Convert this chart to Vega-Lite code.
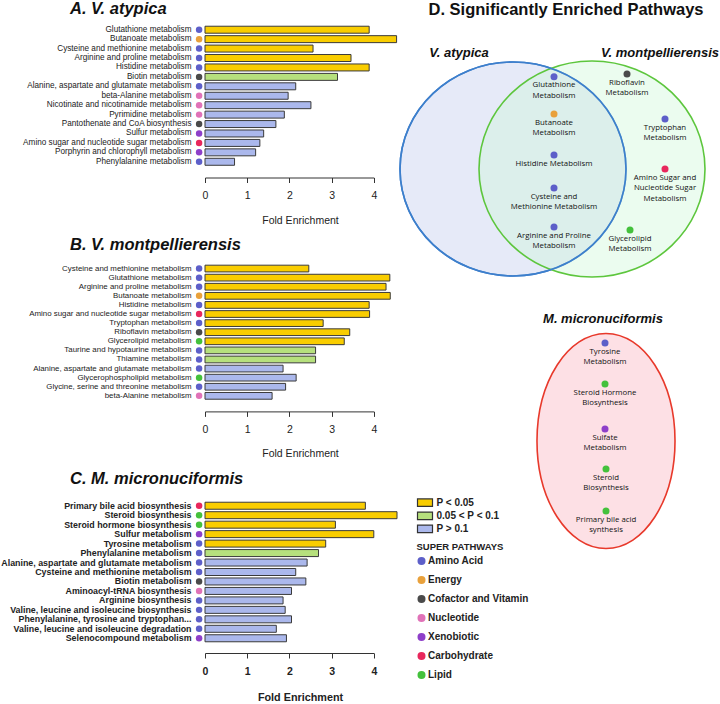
{
 "$schema": "https://vega.github.io/schema/vega-lite/v6.json",
 "padding": 0,
 "background": "white",
 "config": {"view": {"stroke": null}, "font": "Liberation Sans", "axis": {"labelFont": "Liberation Sans", "titleFont": "Liberation Sans"}, "legend": {"labelFont": "Liberation Sans", "titleFont": "Liberation Sans"}},
 "datasets": {
  "a": [
   {"pathway":"Glutathione metabolism","fe":3.89,"p":"P < 0.05","super":"Amino Acid"},
   {"pathway":"Butanoate metabolism","fe":4.54,"p":"P < 0.05","super":"Energy"},
   {"pathway":"Cysteine and methionine metabolism","fe":2.56,"p":"P < 0.05","super":"Amino Acid"},
   {"pathway":"Arginine and proline metabolism","fe":3.46,"p":"P < 0.05","super":"Amino Acid"},
   {"pathway":"Histidine metabolism","fe":3.89,"p":"P < 0.05","super":"Amino Acid"},
   {"pathway":"Biotin metabolism","fe":3.14,"p":"0.05 < P < 0.1","super":"Cofactor and Vitamin"},
   {"pathway":"Alanine, aspartate and glutamate metabolism","fe":2.15,"p":"P > 0.1","super":"Amino Acid"},
   {"pathway":"beta-Alanine metabolism","fe":1.97,"p":"P > 0.1","super":"Nucleotide"},
   {"pathway":"Nicotinate and nicotinamide metabolism","fe":2.51,"p":"P > 0.1","super":"Nucleotide"},
   {"pathway":"Pyrimidine metabolism","fe":1.88,"p":"P > 0.1","super":"Nucleotide"},
   {"pathway":"Pantothenate and CoA biosynthesis","fe":1.68,"p":"P > 0.1","super":"Cofactor and Vitamin"},
   {"pathway":"Sulfur metabolism","fe":1.39,"p":"P > 0.1","super":"Xenobiotic"},
   {"pathway":"Amino sugar and nucleotide sugar metabolism","fe":1.30,"p":"P > 0.1","super":"Carbohydrate"},
   {"pathway":"Porphyrin and chlorophyll metabolism","fe":1.20,"p":"P > 0.1","super":"Xenobiotic"},
   {"pathway":"Phenylalanine metabolism","fe":0.70,"p":"P > 0.1","super":"Amino Acid"}
  ],
  "b": [
   {"pathway":"Cysteine and methionine metabolism","fe":2.46,"p":"P < 0.05","super":"Amino Acid"},
   {"pathway":"Glutathione metabolism","fe":4.38,"p":"P < 0.05","super":"Amino Acid"},
   {"pathway":"Arginine and proline metabolism","fe":4.29,"p":"P < 0.05","super":"Amino Acid"},
   {"pathway":"Butanoate metabolism","fe":4.39,"p":"P < 0.05","super":"Energy"},
   {"pathway":"Histidine metabolism","fe":3.89,"p":"P < 0.05","super":"Amino Acid"},
   {"pathway":"Amino sugar and nucleotide sugar metabolism","fe":3.90,"p":"P < 0.05","super":"Carbohydrate"},
   {"pathway":"Tryptophan metabolism","fe":2.80,"p":"P < 0.05","super":"Amino Acid"},
   {"pathway":"Riboflavin metabolism","fe":3.43,"p":"P < 0.05","super":"Cofactor and Vitamin"},
   {"pathway":"Glycerolipid metabolism","fe":3.30,"p":"P < 0.05","super":"Lipid"},
   {"pathway":"Taurine and hypotaurine metabolism","fe":2.62,"p":"0.05 < P < 0.1","super":"Amino Acid"},
   {"pathway":"Thiamine metabolism","fe":2.62,"p":"0.05 < P < 0.1","super":"Amino Acid"},
   {"pathway":"Alanine, aspartate and glutamate metabolism","fe":1.85,"p":"P > 0.1","super":"Amino Acid"},
   {"pathway":"Glycerophospholipid metabolism","fe":2.16,"p":"P > 0.1","super":"Lipid"},
   {"pathway":"Glycine, serine and threonine metabolism","fe":1.91,"p":"P > 0.1","super":"Amino Acid"},
   {"pathway":"beta-Alanine metabolism","fe":1.59,"p":"P > 0.1","super":"Nucleotide"}
  ],
  "c": [
   {"pathway":"Primary bile acid biosynthesis","fe":3.80,"p":"P < 0.05","super":"Carbohydrate"},
   {"pathway":"Steroid biosynthesis","fe":4.55,"p":"P < 0.05","super":"Lipid"},
   {"pathway":"Steroid hormone biosynthesis","fe":3.09,"p":"P < 0.05","super":"Lipid"},
   {"pathway":"Sulfur metabolism","fe":4.00,"p":"P < 0.05","super":"Xenobiotic"},
   {"pathway":"Tyrosine metabolism","fe":2.86,"p":"P < 0.05","super":"Amino Acid"},
   {"pathway":"Phenylalanine metabolism","fe":2.69,"p":"0.05 < P < 0.1","super":"Amino Acid"},
   {"pathway":"Alanine, aspartate and glutamate metabolism","fe":2.42,"p":"P > 0.1","super":"Amino Acid"},
   {"pathway":"Cysteine and methionine metabolism","fe":2.15,"p":"P > 0.1","super":"Amino Acid"},
   {"pathway":"Biotin metabolism","fe":2.39,"p":"P > 0.1","super":"Cofactor and Vitamin"},
   {"pathway":"Aminoacyl-tRNA biosynthesis","fe":2.05,"p":"P > 0.1","super":"Nucleotide"},
   {"pathway":"Arginine biosynthesis","fe":1.85,"p":"P > 0.1","super":"Amino Acid"},
   {"pathway":"Valine, leucine and isoleucine biosynthesis","fe":1.90,"p":"P > 0.1","super":"Amino Acid"},
   {"pathway":"Phenylalanine, tyrosine and tryptophan...","fe":2.05,"p":"P > 0.1","super":"Amino Acid"},
   {"pathway":"Valine, leucine and isoleucine degradation","fe":1.69,"p":"P > 0.1","super":"Amino Acid"},
   {"pathway":"Selenocompound metabolism","fe":1.93,"p":"P > 0.1","super":"Xenobiotic"}
  ],
  "sets": [
   {"set":"V. atypica","x":510,"y":168,"lx":456,"ly":52},
   {"set":"V. montpellierensis","x":589,"y":168,"lx":657,"ly":52},
   {"set":"M. micronuciformis","x":603,"y":440,"lx":600,"ly":318}
  ],
  "venn": [
   {"pathway":"Glutathione\nMetabolism","super":"Amino Acid","x":551,"y":75.7},
   {"pathway":"Butanoate\nMetabolism","super":"Energy","x":551,"y":113},
   {"pathway":"Histidine Metabolism","super":"Amino Acid","x":551,"y":154},
   {"pathway":"Cysteine and\nMethionine Metabolism","super":"Amino Acid","x":551,"y":187},
   {"pathway":"Arginine and Proline\nMetabolism","super":"Amino Acid","x":551,"y":226},
   {"pathway":"Riboflavin\nMetabolism","super":"Cofactor and Vitamin","x":624,"y":73},
   {"pathway":"Tryptophan\nMetabolism","super":"Amino Acid","x":662,"y":118},
   {"pathway":"Amino Sugar and\nNucleotide Sugar\nMetabolism","super":"Carbohydrate","x":662,"y":168},
   {"pathway":"Glycerolipid\nMetabolism","super":"Lipid","x":627,"y":229},
   {"pathway":"Tyrosine\nMetabolism","super":"Amino Acid","x":602,"y":342},
   {"pathway":"Steroid Hormone\nBiosynthesis","super":"Lipid","x":602,"y":383},
   {"pathway":"Sulfate\nMetabolism","super":"Xenobiotic","x":602,"y":428},
   {"pathway":"Steroid\nBiosynthesis","super":"Lipid","x":603,"y":468},
   {"pathway":"Primary bile acid\nsynthesis","super":"Lipid","x":603,"y":510}
  ]
 },
 "resolve": {"scale": {"color": "shared", "fill": "shared"}, "legend": {"color": "shared", "fill": "shared"}},
 "spacing": -4,
 "hconcat": [
  {
   "spacing": 10,
   "resolve": {"scale": {"color": "shared", "fill": "shared"}, "legend": {"color": "shared", "fill": "shared"}},
   "vconcat": [
    {
     "width": 168.8, "height": 141.5,
     "data": {"name": "a"},
     "title": {"text": "A. V. atypica", "anchor": "start", "frame": "group", "dx": -135, "fontSize": 16.5, "fontWeight": "bold", "fontStyle": "italic", "color": "#111", "offset": 7},
     "encoding": {"y": {"field": "pathway", "type": "nominal", "sort": null, "scale": {"paddingInner": 0.26, "paddingOuter": 0.13}, "axis": {"title": null, "ticks": false, "domain": false, "labelPadding": 14, "labelFontSize": 8.2, "labelColor": "#222", "labelLimit": 400}}},
     "layer": [
      {"mark": {"type": "bar", "stroke": "#3a3a3a", "strokeWidth": 1},
       "encoding": {
        "x": {"field": "fe", "type": "quantitative", "scale": {"domain": [0, 4], "nice": false, "zero": true}, "axis": {"title": "Fold Enrichment", "values": [0,1,2,3,4], "format": "d", "grid": false, "offset": 11, "tickSize": 5, "tickColor": "#333", "domainColor": "#333", "labelFontSize": 10.5, "labelPadding": 8, "labelFlush": false, "labelColor": "#222", "titleFontSize": 10.5, "titleFontWeight": "normal", "titleColor": "#222", "titlePadding": 14, "titleX": 95}},
        "fill": {"field": "p", "type": "nominal", "scale": {"domain": ["P < 0.05", "0.05 < P < 0.1", "P > 0.1"], "range": ["#f9cd00", "#b6e07d", "#abb8ec"]}, "legend": {"orient": "none", "legendX": 214, "legendY": 471.7, "padding": 0, "title": null, "symbolType": "M-1.5,-0.75H1.5V0.75H-1.5Z", "symbolSize": 100, "symbolStrokeColor": "#333", "symbolStrokeWidth": 1.2, "symbolOpacity": 1, "labelFontSize": 10, "labelFontWeight": "bold", "labelColor": "#222", "labelOffset": 5.5, "rowPadding": -0.9}}
       }},
      {"mark": {"type": "point", "filled": true, "size": 42, "opacity": 1},
       "encoding": {
        "x": {"datum": -0.14},
        "color": {"field": "super", "type": "nominal", "scale": {"domain": ["Amino Acid", "Energy", "Cofactor and Vitamin", "Nucleotide", "Xenobiotic", "Carbohydrate", "Lipid"], "range": ["#5d5fc9", "#e9a13b", "#4a4a4a", "#e072b8", "#8e3fc9", "#e8275c", "#44c13c"]}, "legend": {"orient": "none", "legendX": 211.5, "legendY": 516.5, "padding": 0, "title": "SUPER PATHWAYS", "titleFontSize": 9.5, "titleFontWeight": "bold", "titleColor": "#222", "titlePadding": 5, "symbolType": "circle", "symbolSize": 64, "symbolOpacity": 1, "symbolStrokeWidth": 0, "labelFontSize": 10, "labelFontWeight": "bold", "labelColor": "#222", "labelOffset": 1.5, "rowPadding": 9}}
       }}
     ]
    },
    {
     "width": 168.8, "height": 136.4,
     "data": {"name": "b"},
     "title": {"text": "B. V. montpellierensis", "anchor": "start", "frame": "group", "dx": -135, "fontSize": 16.5, "fontWeight": "bold", "fontStyle": "italic", "color": "#111", "offset": 11},
     "encoding": {"y": {"field": "pathway", "type": "nominal", "sort": null, "scale": {"paddingInner": 0.26, "paddingOuter": 0.13}, "axis": {"title": null, "ticks": false, "domain": false, "labelPadding": 14, "labelFontSize": 7.9, "labelColor": "#222", "labelLimit": 400}}},
     "layer": [
      {"mark": {"type": "bar", "stroke": "#3a3a3a", "strokeWidth": 1},
       "encoding": {
        "x": {"field": "fe", "type": "quantitative", "scale": {"domain": [0, 4], "nice": false, "zero": true}, "axis": {"title": "Fold Enrichment", "values": [0,1,2,3,4], "format": "d", "grid": false, "offset": 11, "tickSize": 5, "tickColor": "#333", "domainColor": "#333", "labelFontSize": 10.5, "labelPadding": 8, "labelFlush": false, "labelColor": "#222", "titleFontSize": 10.5, "titleFontWeight": "normal", "titleColor": "#222", "titlePadding": 14, "titleX": 95}},
        "fill": {"field": "p", "type": "nominal", "scale": {"domain": ["P < 0.05", "0.05 < P < 0.1", "P > 0.1"], "range": ["#f9cd00", "#b6e07d", "#abb8ec"]}, "legend": {"orient": "none", "legendX": 214, "legendY": 471.7, "padding": 0, "title": null, "symbolType": "M-1.5,-0.75H1.5V0.75H-1.5Z", "symbolSize": 100, "symbolStrokeColor": "#333", "symbolStrokeWidth": 1.2, "symbolOpacity": 1, "labelFontSize": 10, "labelFontWeight": "bold", "labelColor": "#222", "labelOffset": 5.5, "rowPadding": -0.9}}
       }},
      {"mark": {"type": "point", "filled": true, "size": 42, "opacity": 1},
       "encoding": {
        "x": {"datum": -0.14},
        "color": {"field": "super", "type": "nominal", "scale": {"domain": ["Amino Acid", "Energy", "Cofactor and Vitamin", "Nucleotide", "Xenobiotic", "Carbohydrate", "Lipid"], "range": ["#5d5fc9", "#e9a13b", "#4a4a4a", "#e072b8", "#8e3fc9", "#e8275c", "#44c13c"]}, "legend": {"orient": "none", "legendX": 211.5, "legendY": 516.5, "padding": 0, "title": "SUPER PATHWAYS", "titleFontSize": 9.5, "titleFontWeight": "bold", "titleColor": "#222", "titlePadding": 5, "symbolType": "circle", "symbolSize": 64, "symbolOpacity": 1, "symbolStrokeWidth": 0, "labelFontSize": 10, "labelFontWeight": "bold", "labelColor": "#222", "labelOffset": 1.5, "rowPadding": 9}}
       }}
     ]
    },
    {
     "width": 168.8, "height": 142,
     "data": {"name": "c"},
     "title": {"text": "C. M. micronuciformis", "anchor": "start", "frame": "group", "dx": -135, "fontSize": 16.5, "fontWeight": "bold", "fontStyle": "italic", "color": "#111", "offset": 14},
     "encoding": {"y": {"field": "pathway", "type": "nominal", "sort": null, "scale": {"paddingInner": 0.26, "paddingOuter": 0.13}, "axis": {"title": null, "ticks": false, "domain": false, "labelPadding": 14, "labelFontSize": 8.85, "labelFontWeight": "bold", "labelColor": "#222", "labelLimit": 400}}},
     "layer": [
      {"mark": {"type": "bar", "stroke": "#3a3a3a", "strokeWidth": 1},
       "encoding": {
        "x": {"field": "fe", "type": "quantitative", "scale": {"domain": [0, 4], "nice": false, "zero": true}, "axis": {"title": "Fold Enrichment", "values": [0,1,2,3,4], "format": "d", "grid": false, "offset": 10, "tickSize": 5, "tickColor": "#333", "domainColor": "#333", "labelFontSize": 10.5, "labelFontWeight": "bold", "labelPadding": 8, "labelFlush": false, "labelColor": "#222", "titleFontSize": 10.8, "titleFontWeight": "bold", "titleColor": "#222", "titlePadding": 15, "titleX": 95}},
        "fill": {"field": "p", "type": "nominal", "scale": {"domain": ["P < 0.05", "0.05 < P < 0.1", "P > 0.1"], "range": ["#f9cd00", "#b6e07d", "#abb8ec"]}, "legend": {"orient": "none", "legendX": 214, "legendY": 471.7, "padding": 0, "title": null, "symbolType": "M-1.5,-0.75H1.5V0.75H-1.5Z", "symbolSize": 100, "symbolStrokeColor": "#333", "symbolStrokeWidth": 1.2, "symbolOpacity": 1, "labelFontSize": 10, "labelFontWeight": "bold", "labelColor": "#222", "labelOffset": 5.5, "rowPadding": -0.9}}
       }},
      {"mark": {"type": "point", "filled": true, "size": 42, "opacity": 1},
       "encoding": {
        "x": {"datum": -0.14},
        "color": {"field": "super", "type": "nominal", "scale": {"domain": ["Amino Acid", "Energy", "Cofactor and Vitamin", "Nucleotide", "Xenobiotic", "Carbohydrate", "Lipid"], "range": ["#5d5fc9", "#e9a13b", "#4a4a4a", "#e072b8", "#8e3fc9", "#e8275c", "#44c13c"]}, "legend": {"orient": "none", "legendX": 211.5, "legendY": 516.5, "padding": 0, "title": "SUPER PATHWAYS", "titleFontSize": 9.5, "titleFontWeight": "bold", "titleColor": "#222", "titlePadding": 5, "symbolType": "circle", "symbolSize": 64, "symbolOpacity": 1, "symbolStrokeWidth": 0, "labelFontSize": 10, "labelFontWeight": "bold", "labelColor": "#222", "labelOffset": 1.5, "rowPadding": 9}}
       }}
     ]
    }
   ]
  },
  {
   "width": 325, "height": 680,
   "encoding": {
    "x": {"field": "x", "type": "quantitative", "scale": {"domain": [395, 720], "nice": false, "zero": false}, "axis": null},
    "y": {"field": "y", "type": "quantitative", "scale": {"domain": [24, 704], "nice": false, "zero": false, "reverse": true}, "axis": null}
   },
   "layer": [
    {"data": {"name": "sets"}, "transform": [{"filter": "datum.set == 'V. atypica'"}],
     "mark": {"type": "point", "shape": "M-1,0A1,0.947,0,1,0,1,0A1,0.947,0,1,0,-1,0Z", "size": 51076, "filled": true, "fill": "#e6eaf8", "stroke": "#3d7fcc", "strokeWidth": 1.6, "opacity": 1}},
    {"data": {"name": "sets"}, "transform": [{"filter": "datum.set == 'V. montpellierensis'"}],
     "mark": {"type": "point", "shape": "M-1,0A1,0.956,0,1,0,1,0A1,0.956,0,1,0,-1,0Z", "size": 51076, "filled": true, "fill": "#cdf8d7", "fillOpacity": 0.4, "stroke": "#5dc63d", "strokeWidth": 1.6, "strokeOpacity": 1, "opacity": 1}},
    {"data": {"name": "sets"}, "transform": [{"filter": "datum.set == 'V. atypica'"}],
     "mark": {"type": "point", "shape": "M-1,0A1,0.947,0,1,0,1,0A1,0.947,0,1,0,-1,0Z", "size": 51076, "filled": false, "stroke": "#3d7fcc", "strokeWidth": 1.6, "opacity": 1}},
    {"data": {"name": "sets"}, "transform": [{"filter": "datum.set == 'M. micronuciformis'"}],
     "mark": {"type": "point", "shape": "M-0.642,0A0.642,1,0,1,0,0.642,0A0.642,1,0,1,0,-0.642,0Z", "size": 46225, "filled": true, "fill": "#fde0e5", "stroke": "#e8392b", "strokeWidth": 1.6, "opacity": 1}},
    {"data": {"name": "sets"},
     "mark": {"type": "text", "fontSize": 13, "fontWeight": "bold", "fontStyle": "italic", "color": "#111", "align": "center", "baseline": "middle"},
     "encoding": {"x": {"field": "lx", "type": "quantitative"}, "y": {"field": "ly", "type": "quantitative"}, "text": {"field": "set"}}},
    {"data": {"name": "venn"},
     "mark": {"type": "point", "filled": true, "size": 49, "opacity": 1},
     "encoding": {"color": {"field": "super", "type": "nominal", "scale": {"domain": ["Amino Acid", "Energy", "Cofactor and Vitamin", "Nucleotide", "Xenobiotic", "Carbohydrate", "Lipid"], "range": ["#5d5fc9", "#e9a13b", "#4a4a4a", "#e072b8", "#8e3fc9", "#e8275c", "#44c13c"]}, "legend": {"orient": "none", "legendX": 211.5, "legendY": 516.5, "padding": 0, "title": "SUPER PATHWAYS", "titleFontSize": 9.5, "titleFontWeight": "bold", "titleColor": "#222", "titlePadding": 5, "symbolType": "circle", "symbolSize": 64, "symbolOpacity": 1, "symbolStrokeWidth": 0, "labelFontSize": 10, "labelFontWeight": "bold", "labelColor": "#222", "labelOffset": 1.5, "rowPadding": 9}}}},
    {"data": {"name": "venn"},
     "mark": {"type": "text", "font": "Open Sans", "fontSize": 7.8, "color": "#111", "align": "center", "baseline": "top", "dy": 4.5, "lineBreak": "\n", "lineHeight": 10.5},
     "encoding": {"text": {"field": "pathway"}}},
    {"data": {"values": [{"title": "D. Significantly Enriched Pathways", "x": 563, "y": 9}]},
     "mark": {"type": "text", "fontSize": 16.5, "fontWeight": "bold", "color": "#111", "align": "center", "baseline": "middle"},
     "encoding": {"text": {"field": "title"}}}
   ]
  }
 ]
}
